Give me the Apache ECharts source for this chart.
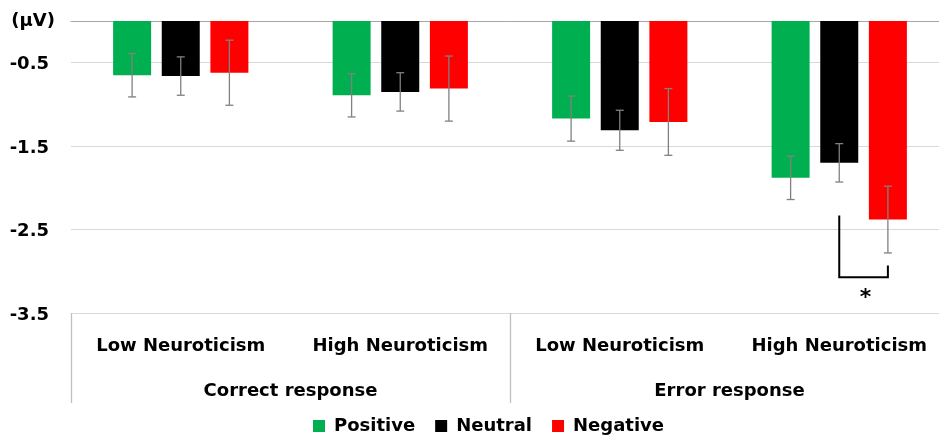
<!DOCTYPE html>
<html>
<head>
<meta charset="utf-8">
<script src="https://cdn.jsdelivr.net/npm/echarts@6/dist/echarts.min.js"></script>
<style>
  html, body { margin: 0; padding: 0; background: #fff; }
  #chart { width: 939px; height: 438px; }
</style>
</head>
<body>
<div id="chart"></div>
<script>
// Categories: neuroticism level within each response type
const levels = ['Low Neuroticism', 'High Neuroticism', 'Low Neuroticism', 'High Neuroticism'];
const responses = ['Correct response', 'Error response'];
const seriesNames = ['Positive', 'Neutral', 'Negative'];

// Mean amplitudes (μV)
const positive = [-0.65, -0.89, -1.17, -1.88];
const neutral  = [-0.66, -0.85, -1.31, -1.70];
const negative = [-0.62, -0.81, -1.21, -2.38];

// Standard errors (μV)
const positiveErr = [0.26, 0.26, 0.27, 0.26];
const neutralErr  = [0.23, 0.23, 0.24, 0.23];
const negativeErr = [0.39, 0.39, 0.40, 0.40];

// Y axis range
const yMin = -3.5;
const yMax = 0;
const yStep = 1;

// Significance bracket: Neutral vs Negative, High Neuroticism / Error response
const sigCategory = 3;
const sigPair = [1, 2];
const sigEnds = [-2.33, -2.93];
const sigBase = -3.07;
const sigStarY = -3.32;
const sigMark = '*';

const COLORS = ['#00B050', '#000000', '#FF0000'];
const FONT = '"DejaVu Sans", "Noto Sans", sans-serif';
const FS = 18;
const BAR_W = 38;
const BAR_GAP = 0.28;

const values = [positive, neutral, negative];
const errors = [positiveErr, neutralErr, negativeErr];

function barOffset(idx) {
  return (idx - 1) * BAR_W * (1 + BAR_GAP);
}

const chart = echarts.init(document.getElementById('chart'), null, { renderer: 'canvas' });

const barSeries = seriesNames.map((name, s) => ({
  name: name,
  type: 'bar',
  xAxisIndex: 0,
  data: values[s],
  barWidth: BAR_W,
  barGap: (BAR_GAP * 100) + '%',
  itemStyle: { color: COLORS[s] },
  silent: true,
  z: 2
}));

const errSeries = seriesNames.map((name, s) => ({
  type: 'custom',
  xAxisIndex: 0,
  silent: true,
  z: 5,
  data: values[s].map((v, i) => [i, v, errors[s][i]]),
  renderItem(params, api) {
    const i = api.value(0), v = api.value(1), e = api.value(2);
    const hi = api.coord([i, v + e]);
    const lo = api.coord([i, v - e]);
    const x = hi[0] + barOffset(s);
    const cap = 4;
    const style = { stroke: '#808080', lineWidth: 1.3 };
    return {
      type: 'group',
      children: [
        { type: 'line', shape: { x1: x, y1: hi[1], x2: x, y2: lo[1] }, style },
        { type: 'line', shape: { x1: x - cap, y1: hi[1], x2: x + cap, y2: hi[1] }, style },
        { type: 'line', shape: { x1: x - cap, y1: lo[1], x2: x + cap, y2: lo[1] }, style }
      ]
    };
  }
}));

const sigSeries = {
  type: 'custom',
  xAxisIndex: 0,
  silent: true,
  z: 6,
  data: [[sigCategory, sigEnds[0], sigEnds[1], sigBase, sigStarY]],
  renderItem(params, api) {
    const c = api.value(0);
    const p1 = api.coord([c, api.value(1)]);
    const p2 = api.coord([c, api.value(2)]);
    const pb = api.coord([c, api.value(3)]);
    const ps = api.coord([c, api.value(4)]);
    const x1 = p1[0] + barOffset(sigPair[0]);
    const x2 = p1[0] + barOffset(sigPair[1]);
    return {
      type: 'group',
      children: [
        {
          type: 'polyline',
          shape: { points: [[x1, p1[1]], [x1, pb[1]], [x2, pb[1]], [x2, p2[1]]] },
          style: { stroke: '#000', lineWidth: 2, fill: null }
        },
        {
          type: 'text',
          style: {
            x: (x1 + x2) / 2 + 2, y: ps[1], text: sigMark,
            fill: '#000', font: 'bold 22px ' + FONT,
            align: 'center', verticalAlign: 'middle'
          }
        }
      ]
    };
  }
};

const option = {
  backgroundColor: '#ffffff',
  animation: false,
  grid: { left: 71, width: 878, top: 21, bottom: 125, containLabel: false, outerBoundsMode: 'none' },
  legend: {
    data: seriesNames.map((n, s) => ({ name: n, itemStyle: { color: COLORS[s] } })),
    top: 412,
    left: 308,
    icon: 'rect',
    itemWidth: 12,
    itemHeight: 12,
    itemGap: 20,
    textStyle: { fontFamily: FONT, fontWeight: 'bold', fontSize: FS, color: '#000', padding: [0, 0, 0, 4] }
  },
  xAxis: [
    {
      type: 'category',
      data: levels,
      position: 'top',
      axisLine: { show: true, lineStyle: { color: '#a6a6a6', width: 1 } },
      axisTick: { show: false },
      axisLabel: { show: false },
      splitLine: { show: false }
    },
    {
      type: 'category',
      data: levels,
      position: 'bottom',
      axisLine: { show: false },
      axisTick: { show: false },
      axisLabel: { margin: 24, fontFamily: FONT, fontWeight: 'bold', fontSize: FS, color: '#000', interval: 0 }
    },
    {
      type: 'category',
      data: responses,
      position: 'bottom',
      axisLine: { show: false },
      axisTick: { show: true, length: 90, lineStyle: { color: '#bfbfbf', width: 1.3 } },
      axisLabel: { margin: 69, fontFamily: FONT, fontWeight: 'bold', fontSize: FS, color: '#000', interval: 0 }
    }
  ],
  yAxis: {
    type: 'value',
    min: yMin,
    max: yMax,
    interval: yStep,
    axisLine: { show: false },
    axisTick: { show: false },
    splitLine: { show: true, lineStyle: { color: '#d9d9d9', width: 1 } },
    axisLabel: {
      margin: 16,
      formatter: v => v === 0 ? '(μV)' : '{v|' + v.toFixed(1) + '}{s| }',
      fontFamily: FONT, fontWeight: 'bold', fontSize: FS, color: '#000',
      rich: {
        v: { fontFamily: FONT, fontWeight: 'bold', fontSize: FS, color: '#000', padding: [4, 0, 0, 0] },
        s: { width: 6 }
      }
    }
  },
  series: [...barSeries, ...errSeries, sigSeries]
};

chart.setOption(option);
</script>
</body>
</html>
